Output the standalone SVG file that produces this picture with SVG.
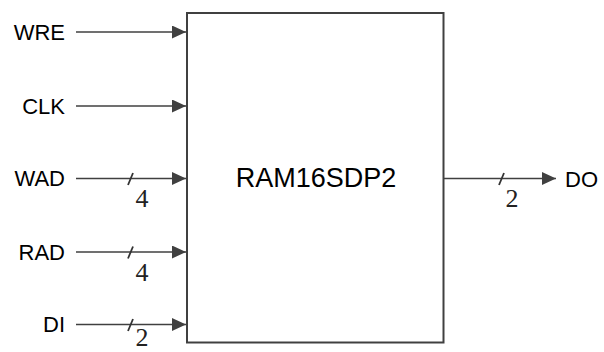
<svg xmlns="http://www.w3.org/2000/svg" width="604" height="352" viewBox="0 0 604 352">
<style>
.lbl{font-family:"Liberation Sans",Arial,sans-serif;font-size:22px;fill:#000}
.title{font-family:"Liberation Sans",Arial,sans-serif;font-size:27px;fill:#000;text-anchor:middle}
.num{font-family:"Liberation Serif","Times New Roman",serif;font-size:26px;fill:#222;text-anchor:middle}
.wire{stroke:#404040;stroke-width:1.6;fill:none}
.slash{stroke:#333;stroke-width:1.8;fill:none}
.box{fill:#fff;stroke:#404040;stroke-width:2}
</style>
<defs>
<marker id="arr" markerUnits="userSpaceOnUse" markerWidth="14" markerHeight="13" refX="14" refY="6.5" orient="auto">
<path d="M0,0 L14,6.5 L0,13 Z" fill="#404040"/>
</marker>
</defs>
<g id="block">
<rect class="box" x="187" y="13" width="256.5" height="329.5"/>
<text class="title" x="316" y="187">RAM16SDP2</text>
</g>
<g id="WRE"><text class="lbl" x="65" y="40" text-anchor="end">WRE</text></g>
<g id="CLK"><text class="lbl" x="65" y="113.5" text-anchor="end">CLK</text></g>
<g id="WAD"><text class="lbl" x="65" y="186" text-anchor="end">WAD</text></g>
<g id="RAD"><text class="lbl" x="65" y="260" text-anchor="end">RAD</text></g>
<g id="DI"><text class="lbl" x="65" y="332" text-anchor="end">DI</text></g>
<g id="DO"><text class="lbl" x="565" y="186.5">DO</text></g>
<g id="connectors">
<line class="wire" x1="76" y1="32" x2="186" y2="32" marker-end="url(#arr)"/>
<line class="wire" x1="76" y1="106" x2="186" y2="106" marker-end="url(#arr)"/>
<line class="wire" x1="76" y1="178.5" x2="186" y2="178.5" marker-end="url(#arr)"/>
<line class="wire" x1="76" y1="252" x2="186" y2="252" marker-end="url(#arr)"/>
<line class="wire" x1="76" y1="324.5" x2="186" y2="324.5" marker-end="url(#arr)"/>
<line class="wire" x1="443.5" y1="178.5" x2="556" y2="178.5" marker-end="url(#arr)"/>
<line class="slash" x1="128" y1="185" x2="133" y2="173"/>
<line class="slash" x1="128" y1="258.5" x2="133" y2="246.5"/>
<line class="slash" x1="128" y1="331" x2="133" y2="319"/>
<line class="slash" x1="499" y1="185" x2="504" y2="173"/>
<text class="num" x="142" y="207">4</text>
<text class="num" x="142" y="280.5">4</text>
<text class="num" x="142" y="346">2</text>
<text class="num" x="512" y="207">2</text>
</g>
</svg>
